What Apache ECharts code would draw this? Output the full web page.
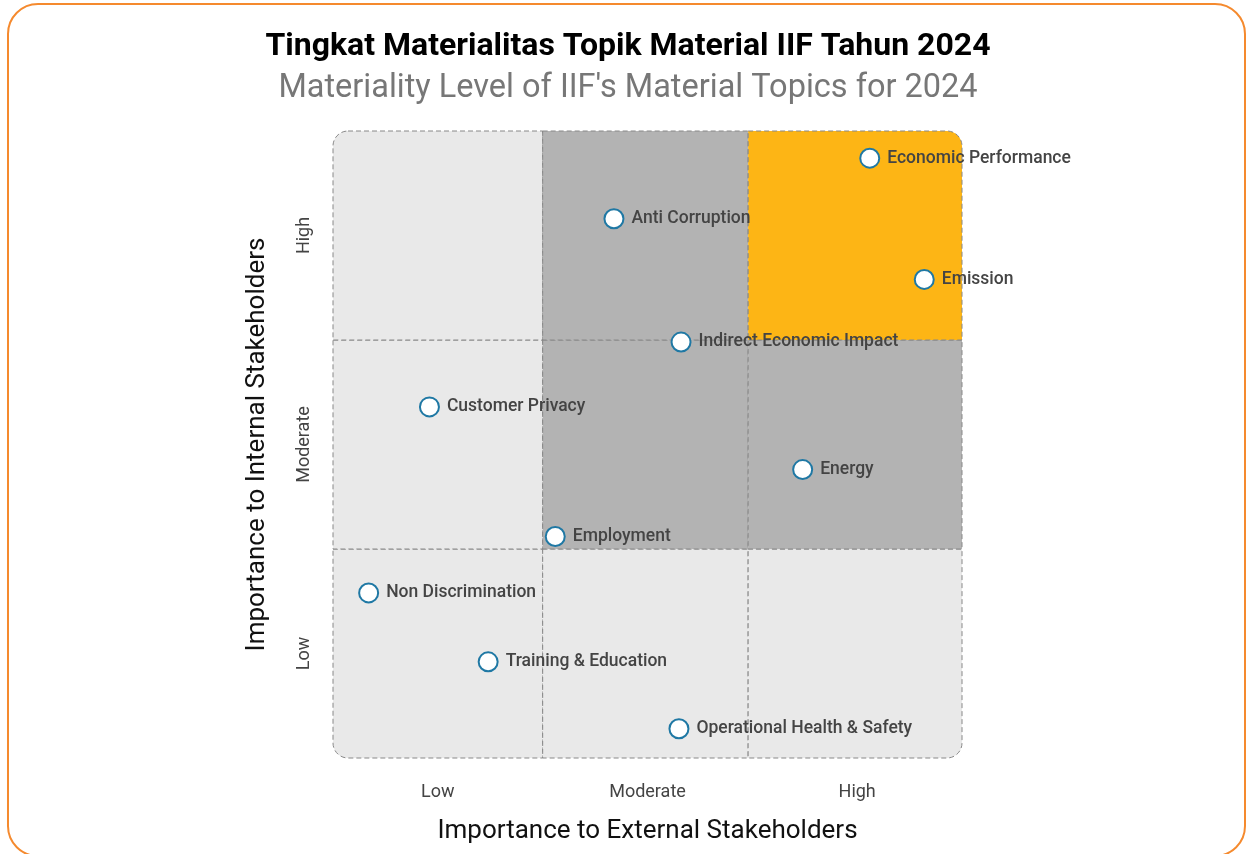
<!DOCTYPE html>
<html>
<head>
<meta charset="utf-8">
<script src="https://cdn.jsdelivr.net/npm/echarts@6/dist/echarts.min.js"></script>
<style>
    html, body { margin: 0; padding: 0; background: #fff; }
    #chart { width: 1247px; height: 854px; }
</style>
</head>
<body>
<div id="chart"></div>
<script>
    // level labels for both axes
    const levels = ['Low', 'Moderate', 'High'];

    // zone edges along each axis (the middle external column is a bit narrower)
    const xEdges = [0, 1, 1.98, 3];
    const yEdges = [0, 1, 2, 3];

    // material topics: external importance (x), internal importance (y)
    const topics = [
        'Economic Performance', 'Anti Corruption', 'Emission', 'Indirect Economic Impact',
        'Customer Privacy', 'Energy', 'Employment', 'Non Discrimination',
        'Training & Education', 'Operational Health & Safety'
    ];
    const externalScore = [2.56, 1.34, 2.82, 1.66, 0.46, 2.24, 1.06, 0.17, 0.74, 1.65];
    const internalScore = [2.87, 2.58, 2.29, 1.99, 1.68, 1.38, 1.06, 0.79, 0.46, 0.14];

    // matrix cells: [external index, internal index, zone]
    const cells = [
        [0, 0, 'low'], [1, 0, 'low'], [2, 0, 'low'],
        [0, 1, 'low'], [1, 1, 'mid'], [2, 1, 'mid'],
        [0, 2, 'low'], [1, 2, 'mid'], [2, 2, 'top']
    ];
    const zoneColors = { low: '#E9E9E9', mid: '#B3B3B3', top: '#FDB515' };

    const chart = echarts.init(document.getElementById('chart'));

    function levelLabel(v) {
        const i = Math.floor(v);
        return (v - i === 0.5) ? levels[i] : '';
    }

    chart.setOption({
        animation: false,
        textStyle: { fontFamily: 'Roboto' },
        title: [
            {
                text: 'Tingkat Materialitas Topik Material IIF Tahun 2024',
                left: 623, top: 26, textAlign: 'center',
                textStyle: { fontSize: 32, fontWeight: 'bold', color: '#000' }
            },
            {
                text: "Materiality Level of IIF's Material Topics for 2024",
                left: 623, top: 67, textAlign: 'center',
                textStyle: { fontSize: 32.5, fontWeight: 'normal', color: '#777' }
            }
        ],
        graphic: [{
            type: 'rect',
            shape: { x: 8, y: 4, width: 1237, height: 852, r: 30 },
            style: { fill: 'none', stroke: '#F58A2E', lineWidth: 2 },
            silent: true
        }],
        grid: { left: 333, top: 131, width: 629, height: 627 },
        xAxis: {
            type: 'value', min: 0, max: 3, interval: 0.5,
            name: 'Importance to External Stakeholders',
            nameLocation: 'middle', nameGap: 60,
            nameTextStyle: { fontSize: 26, color: '#111' },
            axisLine: { show: false }, axisTick: { show: false }, splitLine: { show: false },
            axisLabel: { formatter: levelLabel, fontSize: 18, color: '#444', margin: 25 }
        },
        yAxis: {
            type: 'value', min: 0, max: 3, interval: 0.5,
            name: 'Importance to Internal Stakeholders',
            nameLocation: 'middle', nameGap: 63,
            nameTextStyle: { fontSize: 26, color: '#111' },
            axisLine: { show: false }, axisTick: { show: false }, splitLine: { show: false },
            axisLabel: { formatter: levelLabel, fontSize: 18, color: '#444', rotate: 90, margin: 20 }
        },
        series: [
            {
                type: 'custom',
                silent: true,
                z: 1,
                data: cells,
                renderItem(params, api) {
                    const xi = api.value(0), yi = api.value(1);
                    const p0 = api.coord([xEdges[xi], yEdges[yi + 1]]);
                    const p1 = api.coord([xEdges[xi + 1], yEdges[yi]]);
                    const R = 15;
                    // [topLeft, topRight, bottomRight, bottomLeft]
                    const r = [
                        (xi === 0 && yi === 2) ? R : 0,
                        (xi === 2 && yi === 2) ? R : 0,
                        (xi === 2 && yi === 0) ? R : 0,
                        (xi === 0 && yi === 0) ? R : 0
                    ];
                    return {
                        type: 'rect',
                        shape: { x: p0[0], y: p0[1], width: p1[0] - p0[0], height: p1[1] - p0[1], r: r },
                        style: {
                            fill: zoneColors[cells[params.dataIndex][2]],
                            stroke: '#888', lineWidth: 1, lineDash: [5, 3]
                        }
                    };
                }
            },
            {
                type: 'scatter',
                z: 3,
                symbol: 'circle',
                symbolSize: 19,
                itemStyle: { color: '#fff', borderColor: '#1F78A4', borderWidth: 2, opacity: 1 },
                label: {
                    show: true, position: 'right', distance: 7,
                    formatter: p => p.data[2],
                    fontSize: 17.5, fontWeight: 500, color: '#444'
                },
                data: topics.map((t, i) => [externalScore[i], internalScore[i], t])
            }
        ]
    });
</script>
</body>
</html>
